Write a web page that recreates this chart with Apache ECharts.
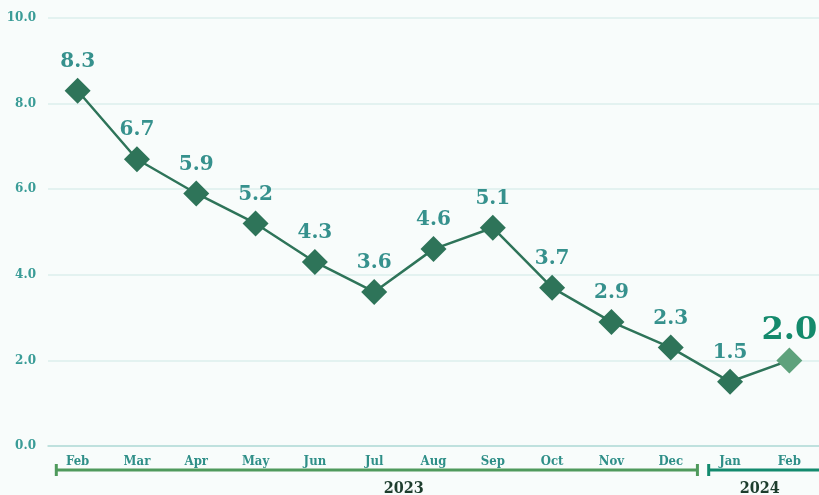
<!DOCTYPE html>
<html>
<head>
<meta charset="utf-8">
<script src="https://cdn.jsdelivr.net/npm/echarts@6/dist/echarts.min.js"></script>
<style>
  html, body { margin: 0; padding: 0; background: #f8fcfb; }
  #chart { width: 819px; height: 495px; }
</style>
</head>
<body>
<div id="chart"></div>
<script>
const months = ["Feb", "Mar", "Apr", "May", "Jun", "Jul", "Aug", "Sep", "Oct", "Nov", "Dec", "Jan", "Feb"];
const rates = [8.3, 6.7, 5.9, 5.2, 4.3, 3.6, 4.6, 5.1, 3.7, 2.9, 2.3, 1.5, 2.0];
const years = [
  { label: "2023", from: 0, to: 10, color: "#4f9a5c" },
  { label: "2024", from: 11, to: 12, color: "#138a6e" },
];

const serif = '"DejaVu Serif", "Liberation Serif", serif';
const condSerif = '"DejaVu Serif Condensed", "DejaVu Serif", serif';

const chart = echarts.init(document.getElementById("chart"));

const seriesData = rates.map((v, i) => {
  if (i === rates.length - 1) {
    return {
      value: v,
      itemStyle: { color: "#5ea27c" },
      label: { fontSize: 32, color: "#148a6c", distance: 1 },
    };
  }
  return v;
});

const option = {
  backgroundColor: "#f8fcfb",
  animation: false,
  grid: { left: 48, right: 0, top: 18, bottom: 49 },
  xAxis: {
    type: "category",
    data: months,
    boundaryGap: true,
    axisLine: { show: true, lineStyle: { color: "#b4dcd7", width: 1.5 } },
    axisTick: { show: false },
    axisLabel: {
      margin: 9,
      color: "#2f8f88",
      fontFamily: condSerif,
      fontWeight: "bold",
      fontSize: 13,
    },
  },
  yAxis: {
    type: "value",
    min: 0,
    max: 10,
    interval: 2,
    axisLine: { show: false },
    axisTick: { show: false },
    splitLine: { lineStyle: { color: "#dcefed", width: 1.5 } },
    axisLabel: {
      margin: 12,
      color: "#3a9c97",
      fontFamily: serif,
      fontWeight: "bold",
      fontSize: 12,
      formatter: (v) => v.toFixed(1),
    },
  },
  series: [
    {
      type: "line",
      data: seriesData,
      symbol: "diamond",
      symbolSize: 26,
      lineStyle: { color: "#2e7459", width: 2.5 },
      itemStyle: { color: "#2e7459" },
      label: {
        show: true,
        position: "top",
        distance: 6,
        color: "#36918d",
        fontFamily: serif,
        fontWeight: "bold",
        fontSize: 20,
        formatter: (p) => p.value.toFixed(1),
      },
    },
  ],
};

chart.setOption(option);

// year brackets under month labels
function drawBrackets() {
  const c = (i) => chart.convertToPixel({ xAxisIndex: 0 }, i);
  const bw = c(1) - c(0);
  const y = 470;
  const els = [];
  years.forEach((yr) => {
    const x1 = c(yr.from) - 0.36 * bw;
    const x2 = yr.to === months.length - 1 ? c(yr.to) + 0.52 * bw : c(yr.to) + 0.45 * bw;
    els.push({
      type: "line",
      shape: { x1, y1: y, x2, y2: y },
      style: { stroke: yr.color, lineWidth: 3 },
    });
    els.push({
      type: "line",
      shape: { x1, y1: y - 6, x2: x1, y2: y + 6 },
      style: { stroke: yr.color, lineWidth: 3 },
    });
    if (yr.to !== months.length - 1) {
      els.push({
        type: "line",
        shape: { x1: x2, y1: y - 6, x2, y2: y + 6 },
        style: { stroke: yr.color, lineWidth: 3 },
      });
    }
    const mid = yr.to - yr.from > 1 ? (c(5) + c(6)) / 2 : (c(yr.from) + c(yr.to)) / 2;
    els.push({
      type: "text",
      x: mid,
      y: 489,
      style: {
        text: yr.label,
        fill: "#1d3d2d",
        font: 'bold 16px ' + condSerif,
        align: "center",
        verticalAlign: "middle",
      },
    });
  });
  chart.setOption({ graphic: els });
}
drawBrackets();

window.addEventListener("resize", () => {
  chart.resize();
  drawBrackets();
});
</script>
</body>
</html>
